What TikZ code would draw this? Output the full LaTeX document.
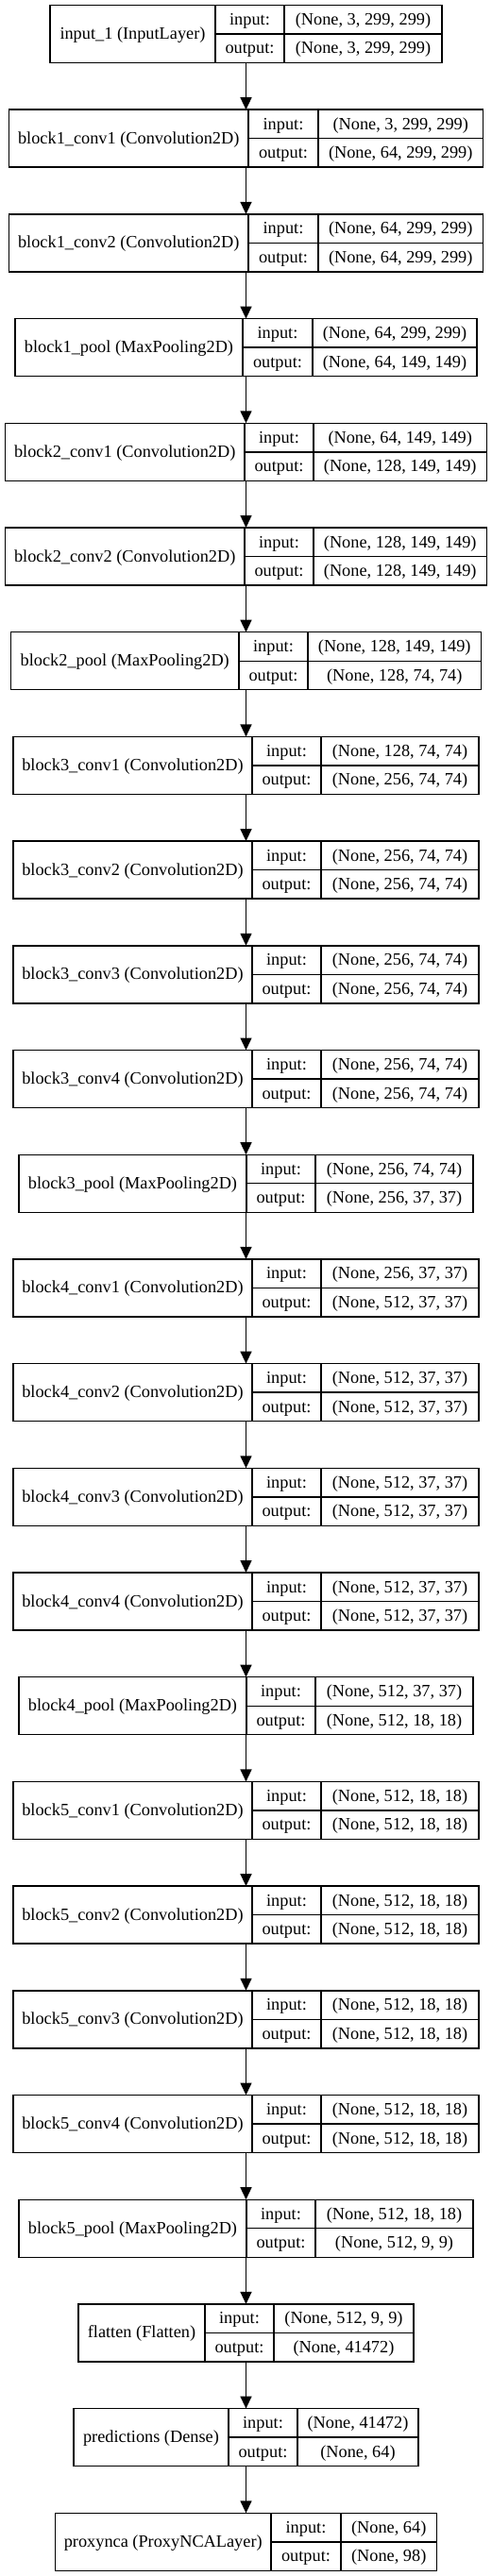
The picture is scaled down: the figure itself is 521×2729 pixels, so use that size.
\documentclass[tikz,border=0pt]{standalone}
\usepackage{fontspec}
\setmainfont{Liberation Serif}
\usetikzlibrary{arrows.meta}
\tikzset{
  layerbox/.style={draw, line width=1.4pt, minimum height=61pt, inner sep=0pt, outer sep=0pt},
  sepline/.style={line width=1.4pt},
  lbl/.style={anchor=base, inner sep=0pt, font=\fontsize{18.3}{22}\selectfont},
  flow/.style={line width=1.4pt, -{Triangle[length=13pt,width=12pt]}}
}
\newcommand\mylayer[9]{%
  \node[layerbox, minimum width={(#6-#3)*1pt}, anchor=north west] (#1) at (#3,#2) {};
  \draw[sepline] (#4,#2) -- (#4,{#2+61});
  \draw[sepline] (#5,#2) -- (#5,{#2+61});
  \draw[sepline] (#4,{#2+30.5}) -- (#6,{#2+30.5});
  \node[lbl] (#1-l) at ({(#3+#4)/2},{#2+36}) {#7};
  \node[lbl] (#1-ik) at ({(#4+#5)/2},{#2+21}) {input:};
  \node[lbl] (#1-ok) at ({(#4+#5)/2},{#2+51.5}) {output:};
  \node[lbl] (#1-iv) at ({(#5+#6)/2},{#2+21}) {#8};
  \node[lbl] (#1-ov) at ({(#5+#6)/2},{#2+51.5}) {#9};
}
\begin{document}
\begin{tikzpicture}[x=1pt,y=-1pt]
\useasboundingbox (0,0) rectangle (521,2729);
\fill[white] (0,0) rectangle (521,2729);
\mylayer{L0}{5.5}{53}{228}{301}{468}{input\_1 (InputLayer)}{(None, 3, 299, 299)}{(None, 3, 299, 299)}
\mylayer{L1}{116.2}{9.5}{263}{337}{511.5}{block1\_conv1 (Convolution2D)}{(None, 3, 299, 299)}{(None, 64, 299, 299)}
\mylayer{L2}{226.9}{9.5}{263}{337}{511.5}{block1\_conv2 (Convolution2D)}{(None, 64, 299, 299)}{(None, 64, 299, 299)}
\mylayer{L3}{337.6}{16}{257}{331}{505}{block1\_pool (MaxPooling2D)}{(None, 64, 299, 299)}{(None, 64, 149, 149)}
\mylayer{L4}{448.3}{5.5}{259}{332}{515.5}{block2\_conv1 (Convolution2D)}{(None, 64, 149, 149)}{(None, 128, 149, 149)}
\mylayer{L5}{559.0}{5.5}{259}{332}{515.5}{block2\_conv2 (Convolution2D)}{(None, 128, 149, 149)}{(None, 128, 149, 149)}
\mylayer{L6}{669.7}{11.5}{253}{326}{509.5}{block2\_pool (MaxPooling2D)}{(None, 128, 149, 149)}{(None, 128, 74, 74)}
\mylayer{L7}{780.4}{14}{267}{340}{507}{block3\_conv1 (Convolution2D)}{(None, 128, 74, 74)}{(None, 256, 74, 74)}
\mylayer{L8}{891.1}{14}{267}{340}{507}{block3\_conv2 (Convolution2D)}{(None, 256, 74, 74)}{(None, 256, 74, 74)}
\mylayer{L9}{1001.8}{14}{267}{340}{507}{block3\_conv3 (Convolution2D)}{(None, 256, 74, 74)}{(None, 256, 74, 74)}
\mylayer{L10}{1112.5}{14}{267}{340}{507}{block3\_conv4 (Convolution2D)}{(None, 256, 74, 74)}{(None, 256, 74, 74)}
\mylayer{L11}{1223.2}{20}{261}{334}{501}{block3\_pool (MaxPooling2D)}{(None, 256, 74, 74)}{(None, 256, 37, 37)}
\mylayer{L12}{1333.9}{14}{267}{340}{507}{block4\_conv1 (Convolution2D)}{(None, 256, 37, 37)}{(None, 512, 37, 37)}
\mylayer{L13}{1444.6}{14}{267}{340}{507}{block4\_conv2 (Convolution2D)}{(None, 512, 37, 37)}{(None, 512, 37, 37)}
\mylayer{L14}{1555.3}{14}{267}{340}{507}{block4\_conv3 (Convolution2D)}{(None, 512, 37, 37)}{(None, 512, 37, 37)}
\mylayer{L15}{1666.0}{14}{267}{340}{507}{block4\_conv4 (Convolution2D)}{(None, 512, 37, 37)}{(None, 512, 37, 37)}
\mylayer{L16}{1776.7}{20}{261}{334}{501}{block4\_pool (MaxPooling2D)}{(None, 512, 37, 37)}{(None, 512, 18, 18)}
\mylayer{L17}{1887.4}{14}{267}{340}{507}{block5\_conv1 (Convolution2D)}{(None, 512, 18, 18)}{(None, 512, 18, 18)}
\mylayer{L18}{1998.1}{14}{267}{340}{507}{block5\_conv2 (Convolution2D)}{(None, 512, 18, 18)}{(None, 512, 18, 18)}
\mylayer{L19}{2108.8}{14}{267}{340}{507}{block5\_conv3 (Convolution2D)}{(None, 512, 18, 18)}{(None, 512, 18, 18)}
\mylayer{L20}{2219.5}{14}{267}{340}{507}{block5\_conv4 (Convolution2D)}{(None, 512, 18, 18)}{(None, 512, 18, 18)}
\mylayer{L21}{2330.2}{20}{261}{334}{501}{block5\_pool (MaxPooling2D)}{(None, 512, 18, 18)}{(None, 512, 9, 9)}
\mylayer{L22}{2440.9}{83}{217}{290}{438}{flatten (Flatten)}{(None, 512, 9, 9)}{(None, 41472)}
\mylayer{L23}{2551.6}{78}{242}{315}{443}{predictions (Dense)}{(None, 41472)}{(None, 64)}
\mylayer{L24}{2662.3}{58.5}{287}{361}{462.5}{proxynca (ProxyNCALayer)}{(None, 64)}{(None, 98)}
\foreach \a/\b in {L0/L1,L1/L2,L2/L3,L3/L4,L4/L5,L5/L6,L6/L7,L7/L8,L8/L9,L9/L10,L10/L11,L11/L12,L12/L13,L13/L14,L14/L15,L15/L16,L16/L17,L17/L18,L18/L19,L19/L20,L20/L21,L21/L22,L22/L23,L23/L24}
  \draw[flow] (\a.south) -- (\b.north);
\end{tikzpicture}
\end{document}
